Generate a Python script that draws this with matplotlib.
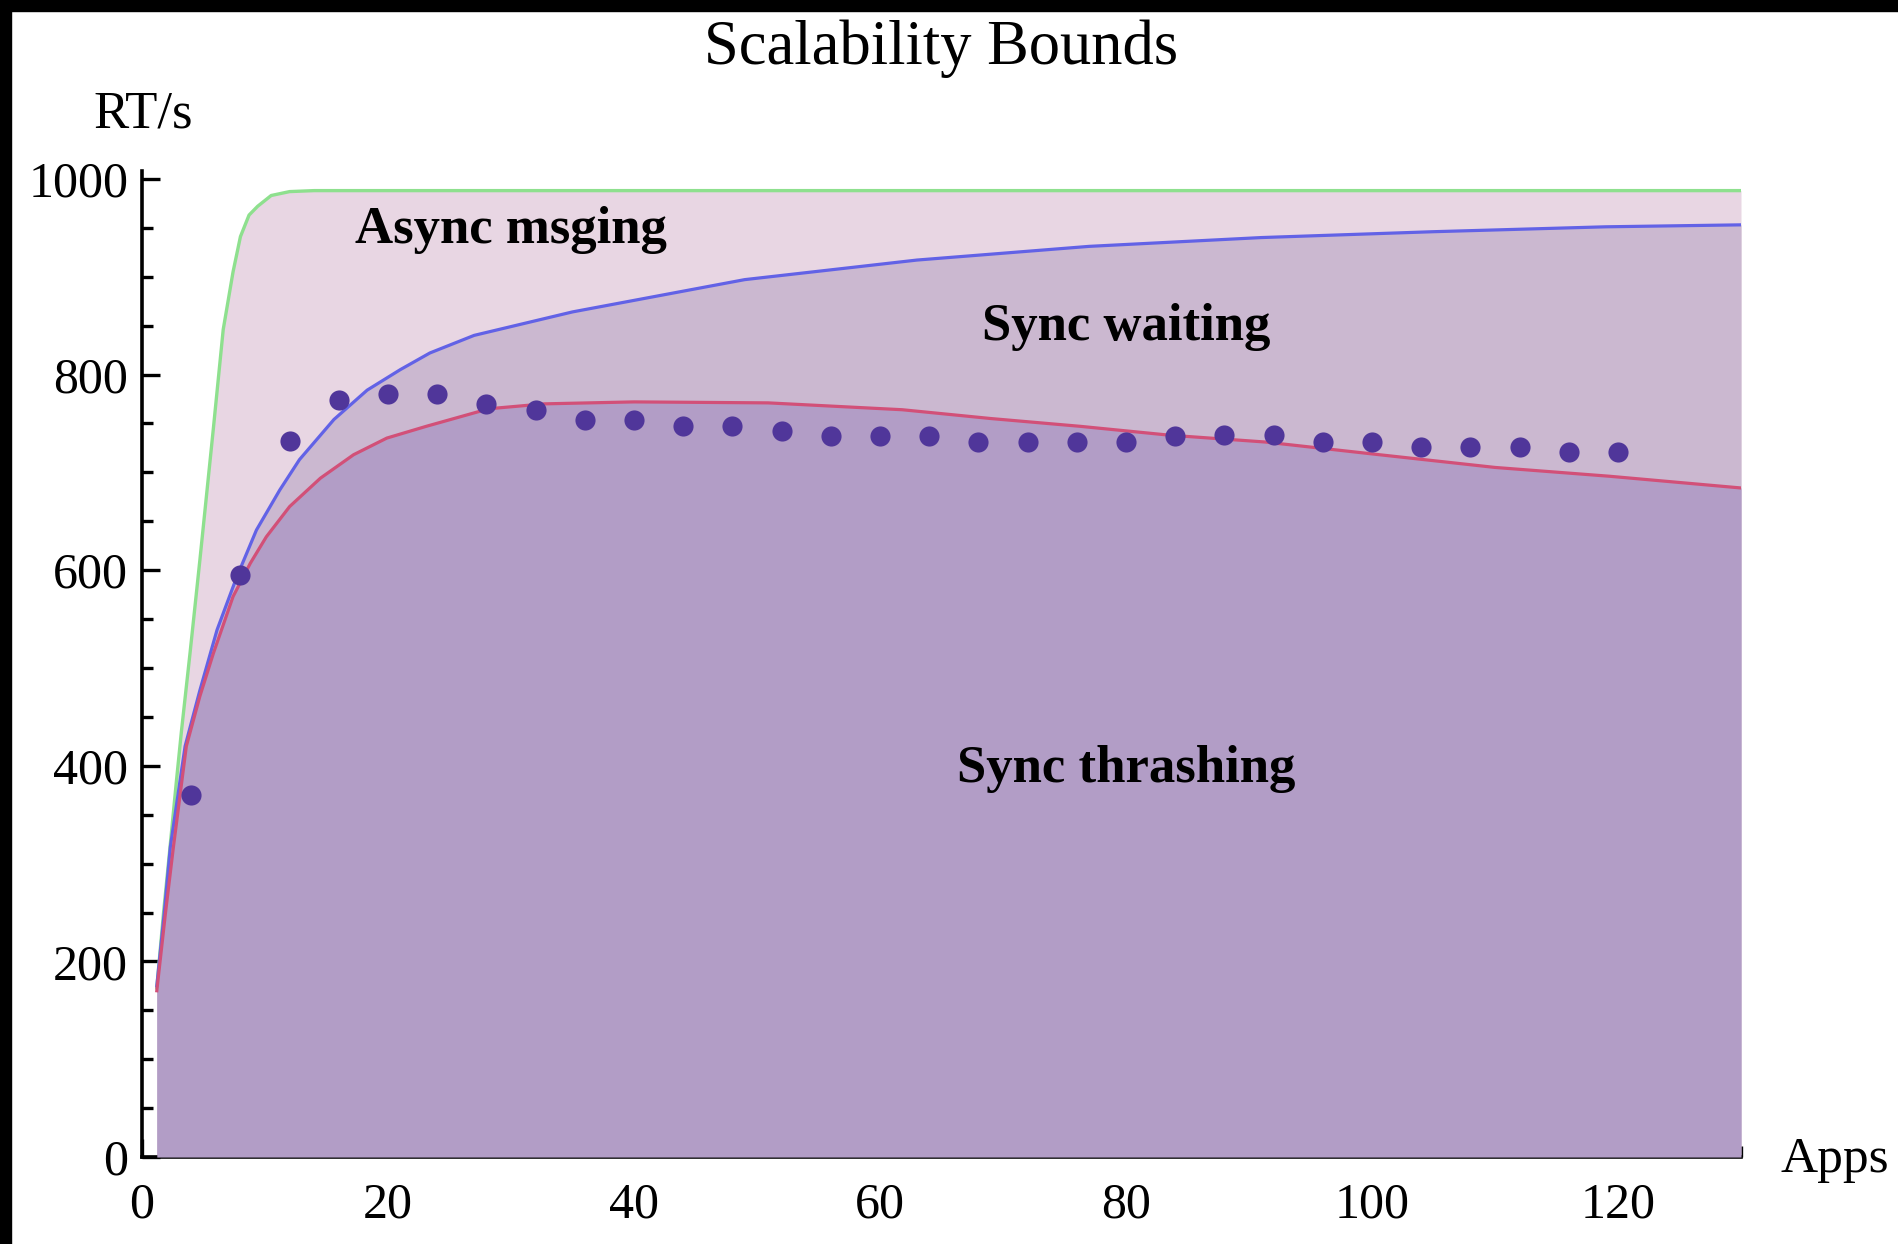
import matplotlib
matplotlib.use('Agg')
import matplotlib.pyplot as plt
from matplotlib.patches import Rectangle

# upper bound: async messaging
green_x = [1.2, 1.75, 2.3, 2.8, 3.2, 3.9, 4.7, 5.8, 6.6, 7.4, 8.0, 8.7, 9.4, 10.5, 12, 14, 130]
green_y = [173, 250, 320, 385, 435, 515, 610, 745, 846, 905, 941, 963, 972, 983, 987, 988, 988]

# sync waiting bound
blue_x = [1.2, 1.8, 2.3, 3.5, 4.7, 6.1, 7.7, 9.3, 11.2, 12.8, 15.6, 18.3, 21, 23.4, 27, 35, 49, 63, 77, 91, 105, 119, 130]
blue_y = [175, 249, 317, 420, 477, 539, 593, 641, 682, 713, 754, 784, 805, 822, 840, 864, 897, 917, 931, 940, 946, 951, 953]

# sync thrashing bound
red_x = [1.2, 1.9, 2.55, 3.6, 4.7, 5.8, 7.4, 8.8, 10.1, 12.0, 14.5, 17.2, 19.9, 23.1, 28.2, 32.7, 40,
         50.9, 61.8, 69, 76.3, 83.5, 91.3, 100.6, 110, 119.3, 130]
red_y = [170, 249, 317, 420, 471, 515, 573, 607, 634, 665, 694, 718, 735, 747, 765, 770, 772,
         771, 764, 755, 747, 738, 731, 718, 705, 696, 684]

# measured throughput
apps = list(range(4, 121, 4))
rt = [370, 595, 732, 774, 780, 780, 770, 764, 753, 753, 747, 747, 742, 737, 737,
      737, 731, 731, 731, 731, 737, 738, 738, 731, 731, 726, 726, 726, 721, 721]

plt.rcParams['font.family'] = ['Liberation Serif', 'DejaVu Serif']

fig = plt.figure(figsize=(18.99, 12.44), dpi=100)
ax = fig.add_axes([0.0748, 0.0699, 0.842, 0.7926])

ax.fill_between(green_x, 0, green_y, color='#E8D6E3', lw=0, zorder=1)
ax.fill_between(blue_x, 0, blue_y, color='#CBB8D0', lw=0, zorder=2)
ax.fill_between(red_x, 0, red_y, color='#B29DC6', lw=0, zorder=3)
ax.plot(green_x, green_y, color='#8EE08E', lw=2.4, zorder=4, solid_joinstyle='round')
ax.plot(blue_x, blue_y, color='#6262E6', lw=2.3, zorder=5, solid_joinstyle='round')
ax.plot(red_x, red_y, color='#D25078', lw=2.3, zorder=6, solid_joinstyle='round')
ax.plot(apps, rt, 'o', color='#50369A', ms=14.5, mec='none', zorder=7)

ax.text(30, 948, 'Async msging', fontsize=38, fontweight='bold', ha='center', va='center', zorder=8)
ax.text(80, 849, 'Sync waiting', fontsize=38, fontweight='bold', ha='center', va='center', zorder=8)
ax.text(80, 397, 'Sync thrashing', fontsize=38, fontweight='bold', ha='center', va='center', zorder=8)

ax.set_xlim(0, 130)
ax.set_ylim(0, 1008)
ax.set_xticks(range(0, 121, 20))
ax.set_xticks(range(0, 131, 5), minor=True)
ax.set_yticks(range(0, 1001, 200))
ax.set_yticks(range(0, 1001, 50), minor=True)
for s in ['top', 'right']:
    ax.spines[s].set_visible(False)
for s in ['left', 'bottom']:
    ax.spines[s].set_linewidth(2.6)
ax.tick_params(which='major', direction='in', length=13, width=2.4, labelsize=36)
ax.tick_params(which='minor', direction='in', length=8, width=2.4)
ax.tick_params(axis='x', which='major', pad=18)
ax.tick_params(axis='y', which='major', pad=10)
ax.set_facecolor('white')

fig.text(0.4955, 0.961, 'Scalability Bounds', fontsize=45, ha='center', va='center')
fig.text(0.0753, 0.9076, 'RT/s', fontsize=38, ha='center', va='center')
fig.text(0.966, 0.0675, 'Apps', fontsize=37, ha='center', va='center')

# black border strips along top and left edges
fig.patches.append(Rectangle((0, 1 - 11 / 1244), 1, 11 / 1244, transform=fig.transFigure, color='black', zorder=10))
fig.patches.append(Rectangle((0, 0), 11 / 1899, 1, transform=fig.transFigure, color='black', zorder=10))

fig.savefig('out.png', dpi=100)
